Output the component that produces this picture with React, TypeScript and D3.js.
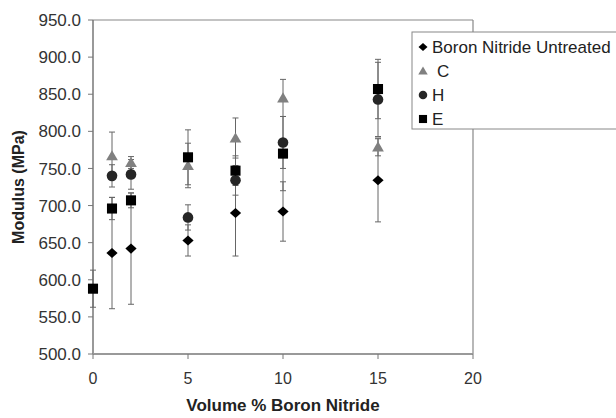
import React from "react";
import * as d3 from "d3";

const xTicks = [0, 5, 10, 15, 20];
const yTicks = [500, 550, 600, 650, 700, 750, 800, 850, 900, 950];

const bnX = [1, 2, 5, 7.5, 10, 15];
const bnY = [636, 642, 653, 690, 692, 734];
const bnErr = [75, 75, 21, 58, 40, 56];

const cX = [1, 2, 5, 7.5, 10, 15];
const cY = [767, 758, 754, 791, 845, 779];
const cErr = [32, 8, 30, 27, 25, 12];

const hX = [1, 2, 5, 7.5, 10, 15];
const hY = [740, 742, 684, 734, 785, 843];
const hErr = [15, 20, 17, 20, 35, 50];

const eX = [0, 1, 2, 5, 7.5, 10, 15];
const eY = [588, 696, 707, 765, 747, 770, 857];
const eErr = [25, 15, 10, 37, 20, 50, 40];

const seriesNames = ["Boron Nitride Untreated", "C", "H", "E"];

const W = 616, H = 418;
const L = 93, R = 473, T = 20, B = 354;

function shapePath(shape: string, s: number): string {
  const p = d3.path();
  if (shape === "diamond") {
    p.moveTo(0, -s * 0.9);
    p.lineTo(s, 0);
    p.lineTo(0, s * 0.9);
    p.lineTo(-s, 0);
    p.closePath();
  } else if (shape === "triangle") {
    p.moveTo(0, -s);
    p.lineTo(s * 1.05, s * 0.8);
    p.lineTo(-s * 1.05, s * 0.8);
    p.closePath();
  } else if (shape === "circle") {
    p.arc(0, 0, s * 0.95, 0, 2 * Math.PI);
  } else {
    p.rect(-s * 0.9, -s * 0.9, s * 1.8, s * 1.8);
  }
  return p.toString();
}

export default function App() {
  const x = d3.scaleLinear().domain([0, 20]).range([L, R]);
  const y = d3.scaleLinear().domain([500, 950]).range([B, T]);

  const series = [
    { name: seriesNames[0], xs: bnX, ys: bnY, errs: bnErr, shape: "diamond", color: "#000" },
    { name: seriesNames[1], xs: cX, ys: cY, errs: cErr, shape: "triangle", color: "#808080" },
    { name: seriesNames[2], xs: hX, ys: hY, errs: hErr, shape: "circle", color: "#262626" },
    { name: seriesNames[3], xs: eX, ys: eY, errs: eErr, shape: "square", color: "#000" },
  ];

  const font = "Arial, 'Liberation Sans', sans-serif";

  return (
    <svg width={W} height={H} style={{ position: "absolute", left: 0, top: 0, background: "#fff" }} fontFamily={font}>
      <rect x={0} y={0} width={W} height={H} fill="#fff" />
      <line x1={L} y1={T} x2={R} y2={T} stroke="#888" strokeWidth={1.2} />
      <line x1={R} y1={T} x2={R} y2={B} stroke="#888" strokeWidth={1.2} />
      <line x1={L} y1={T} x2={L} y2={B} stroke="#777" strokeWidth={1.5} />
      <line x1={L} y1={B} x2={R} y2={B} stroke="#999" strokeWidth={2} />
      {yTicks.map((v) => (
        <g key={"y" + v}>
          <line x1={L - 5} x2={L} y1={y(v)} y2={y(v)} stroke="#777" />
          <text x={81} y={y(v)} dy="0.36em" textAnchor="end" fontSize={17} fill="#333">
            {v.toFixed(1)}
          </text>
        </g>
      ))}
      {xTicks.map((v) => (
        <g key={"x" + v}>
          <line x1={x(v)} x2={x(v)} y1={B} y2={B + 5} stroke="#777" />
          <text x={x(v)} y={384} textAnchor="middle" fontSize={16} fill="#333">
            {v}
          </text>
        </g>
      ))}
      <text x={283} y={411} textAnchor="middle" fontSize={17} fontWeight="bold" fill="#222">
        Volume % Boron Nitride
      </text>
      <text transform={`translate(24,187) rotate(-90)`} textAnchor="middle" fontSize={16} fontWeight="bold" fill="#222">
        Modulus (MPa)
      </text>
      {series.map((s) =>
        s.xs.map((xv, i) => (
          <g key={s.name + "e" + i} stroke="#666" strokeWidth={1}>
            <line x1={x(xv)} x2={x(xv)} y1={y(s.ys[i] - s.errs[i])} y2={y(s.ys[i] + s.errs[i])} />
            <line x1={x(xv) - 3} x2={x(xv) + 3} y1={y(s.ys[i] - s.errs[i])} y2={y(s.ys[i] - s.errs[i])} />
            <line x1={x(xv) - 3} x2={x(xv) + 3} y1={y(s.ys[i] + s.errs[i])} y2={y(s.ys[i] + s.errs[i])} />
          </g>
        ))
      )}
      {series.map((s) =>
        s.xs.map((xv, i) => (
          <path
            key={s.name + "m" + i}
            d={shapePath(s.shape, 5.6)}
            transform={`translate(${x(xv)},${y(s.ys[i])})`}
            fill={s.color}
          />
        ))
      )}
      <rect x={412} y={32} width={220} height={97} fill="#fff" stroke="#888" strokeWidth={1} />
      {series.map((s, i) => (
        <g key={"lg" + i} transform={`translate(0,${47 + i * 24})`}>
          <path d={shapePath(s.shape, 4.5)} transform={`translate(423,0)`} fill={s.color} />
          <text x={s.name === "C" ? 437 : 432} y={0} dy="0.36em" fontSize={17} fill="#222">
            {s.name}
          </text>
        </g>
      ))}
    </svg>
  );
}
